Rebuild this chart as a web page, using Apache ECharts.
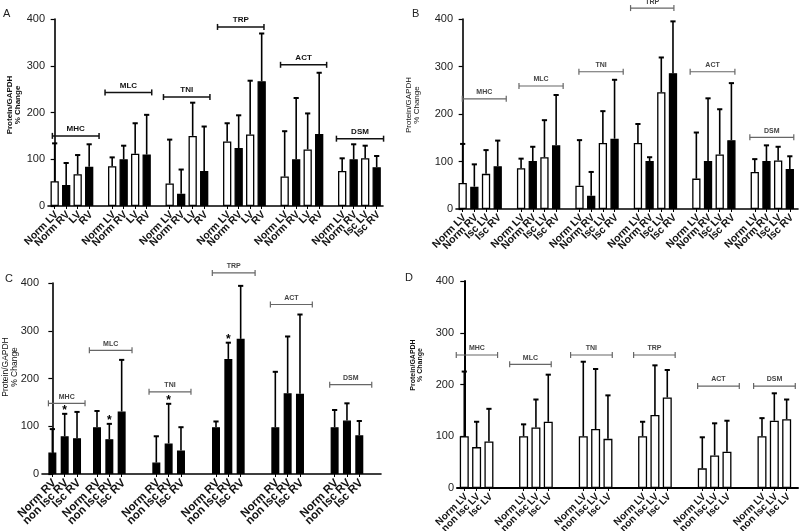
<!DOCTYPE html>
<html><head><meta charset="utf-8">
<script src="https://cdn.jsdelivr.net/npm/echarts@6/dist/echarts.min.js"></script>
<style>html,body{margin:0;padding:0;background:#fff}#c{width:800px;height:531px}</style>
</head><body><div id="c"></div>
<script>
// ---------- DATA ----------
const genes = ['MHC', 'MLC', 'TNI', 'TRP', 'ACT', 'DSM'];
const yTicks = [0, 100, 200, 300, 400];

const labelsA = ['Norm LV', 'Norm RV', 'LV', 'RV'];
const labelsA_last = ['Norm LV', 'Norm RV', 'Isc LV', 'Isc RV'];
const labelsB = ['Norm LV', 'Norm RV', 'Isc LV', 'Isc RV'];
const labelsC = ['Norm RV', 'non Isc RV', 'Isc RV'];
const labelsD = ['Norm LV', 'non Isc LV', 'Isc LV'];

// mean values (% change) per gene group
const meanA = [53, 45, 68, 84,  85, 100, 112, 110,  48, 26, 150, 75,  138, 124, 153, 267,  63, 100, 121, 154,  75, 100, 102, 83];
const sdA   = [81, 47, 41, 48,  19, 29, 65, 85,     94, 52, 71, 95,   39, 70, 115, 102,   97, 131, 77, 131,   27, 32, 27, 24];

const meanB = [55, 47, 74, 90,  86, 101, 109, 134,  49, 28, 139, 148,  139, 101, 246, 286,  64, 101, 115, 145,  78, 101, 102, 84];
const sdB   = [82, 47, 50, 54,  20, 30, 78, 106,    96, 50, 67, 124,   40, 8, 73, 109,      97, 132, 95, 120,   27, 33, 29, 27];

const meanC = [45, 79, 75,  98, 73, 131,  24, 64, 49,  98, 241, 283,  98, 169, 168,  98, 112, 81];
const sdC   = [49, 47, 55,  34, 32, 108,  55, 83, 49,  12, 34, 111,   116, 119, 166, 36, 36, 30];
const sigC  = [0, 1, 0,     0, 1, 0,      0, 1, 0,     0, 1, 0,       0, 0, 0,       0, 0, 0];

const meanD = [100, 79, 90,  100, 117, 128,  100, 114, 95,  100, 141, 175,  38, 63, 70,  100, 130, 133];
const sdD   = [125, 49, 63,  23, 54, 91,     144, 116, 84,  28, 96, 53,     60, 62, 60,  35, 53, 38];

// level of the gene bracket annotations
const bracketA = [150, 243, 233, 383, 302, 144];
const bracketB = [232, 259, 289, 423, 289, 151];
const bracketC = [148, 259, 172, 421, 355, 187];
const bracketD = [257, 239, 257, 257, 197, 197];

// ---------- LAYOUT ----------
const FONT = 'Liberation Sans, Arial, sans-serif';
const panels = [
  { key: 'A', grid: {left: 48, top: 19, width: 335, height: 187}, xmin: -0.58, xmax: 28.55,
    starts: [0, 5, 10, 15, 20, 25], n: 4, fills: ['#fff', '#000', '#fff', '#000'],
    spans: [[-0.2, 3.86], [4.38, 8.44], [9.46, 13.5], [14.16, 18.2], [19.64, 23.65], [24.5, 28.6]],
    labels: g => (g === 5 ? labelsA_last : labelsA), mean: meanA, sd: sdA, br: bracketA,
    barW: 8.3, brColor: '#111', brWidth: 1.5, brFont: 'bold 8px ' + FONT, lblFont: 10.5, axisW: 1.6 },
  { key: 'B', grid: {left: 456, top: 19, width: 342, height: 190}, xmin: -0.57, xmax: 28.7,
    starts: [0, 5, 10, 15, 20, 25], n: 4, fills: ['#fff', '#000', '#fff', '#000'],
    spans: [[-0.03, 3.73], [4.82, 8.6], [9.95, 13.74], [14.37, 18.08], [19.47, 23.3], [24.58, 28.34]],
    labels: g => labelsB, mean: meanB, sd: sdB, br: bracketB,
    barW: 8.3, brColor: '#666', brWidth: 1.2, brFont: 'bold 7px ' + FONT, lblFont: 10.5, axisW: 1.6 },
  { key: 'C', grid: {left: 42, top: 283, width: 339, height: 191}, xmin: -0.84, xmax: 26.65,
    starts: [0, 3.62, 8.43, 13.27, 18.08, 22.89], n: 3, fills: ['#000', '#000', '#000'],
    spans: [[-0.32, 2.65], [3.0, 6.46], [7.84, 11.24], [12.97, 16.44], [17.68, 21.08], [22.49, 25.9]],
    labels: g => labelsC, mean: meanC, sd: sdC, br: bracketC, sig: sigC,
    barW: 8, brColor: '#666', brWidth: 1.2, brFont: 'bold 7px ' + FONT, lblFont: 11.5, axisW: 1.6 },
  { key: 'D', grid: {left: 457, top: 281, width: 341, height: 207}, xmin: -0.59, xmax: 27.06,
    starts: [0, 4.81, 9.65, 14.46, 19.3, 24.14], n: 3, fills: ['#fff', '#fff', '#fff'],
    spans: [[-0.65, 2.7], [3.68, 7.05], [8.62, 12.0], [13.73, 17.1], [18.92, 22.3], [23.46, 26.84]],
    labels: g => labelsD, mean: meanD, sd: sdD, br: bracketD,
    barW: 9, brColor: '#666', brWidth: 1.2, brFont: 'bold 7px ' + FONT, lblFont: 10, axisW: 2 }
];

const grids = [], xAxes = [], yAxes = [], series = [];

panels.forEach((p, idx) => {
  const pos = [], names = [];
  p.starts.forEach((s, g) => {
    const lb = p.labels(g);
    for (let j = 0; j < p.n; j++) { pos.push(+(s + j).toFixed(4)); names.push(lb[j]); }
  });
  grids.push(Object.assign({containLabel: false}, p.grid));
  xAxes.push({
    type: 'value', gridIndex: idx, min: p.xmin, max: p.xmax,
    splitLine: {show: false},
    axisLine: {show: true, onZero: false, lineStyle: {color: '#000', width: p.axisW}},
    axisTick: {show: true, customValues: pos, length: 3, lineStyle: {color: '#000', width: 1}},
    axisLabel: {show: false}
  });
  yAxes.push({
    type: 'value', gridIndex: idx, min: 0, max: 400, interval: 100,
    splitLine: {show: false},
    axisLine: {show: true, lineStyle: {color: '#000', width: p.axisW}},
    axisTick: {show: true, length: 4, lineStyle: {color: '#000', width: 1.2}},
    axisLabel: {fontFamily: FONT, fontSize: 11, color: '#222', margin: 3, showMinLabel: true, showMaxLabel: true,
      formatter: v => (yTicks.indexOf(v) >= 0 ? String(v) : '')}
  });
  series.push({
    type: 'bar', xAxisIndex: idx, yAxisIndex: idx, barWidth: p.barW, z: 2,
    animation: false,
    data: pos.map((x, i) => ({value: [x, p.mean[i]], itemStyle: {color: p.fills[i % p.n]}})),
    itemStyle: {borderColor: '#000', borderWidth: 1.3}
  });
  const sig = p.sig || [];
  series.push({
    type: 'custom', xAxisIndex: idx, yAxisIndex: idx, z: 3, animation: false,
    data: pos.map((x, i) => [x, p.mean[i], p.mean[i] + p.sd[i], sig[i] || 0]),
    encode: {x: 0, y: [1, 2]},
    renderItem: (params, api) => {
      const x = api.value(0);
      const a = api.coord([x, api.value(1)]), b = api.coord([x, api.value(2)]);
      const ch = [
        {type: 'line', shape: {x1: a[0], y1: a[1], x2: b[0], y2: b[1]}, style: {stroke: '#000', lineWidth: 1.6}},
        {type: 'line', shape: {x1: b[0] - 2.6, y1: b[1], x2: b[0] + 2.6, y2: b[1]}, style: {stroke: '#000', lineWidth: 2}}
      ];
      if (api.value(3)) ch.push({type: 'text', x: b[0], y: b[1] + 3,
        style: {text: '*', align: 'center', verticalAlign: 'bottom', font: 'bold 12px ' + FONT, fill: '#000'}});
      return {type: 'group', children: ch};
    }
  });
  // category labels, rotated 45°, anchored under each bar
  series.push({
    type: 'custom', xAxisIndex: idx, yAxisIndex: idx, z: 5, animation: false, clip: false, silent: true,
    data: pos.map(x => [x, 0]),
    encode: {x: 0, y: 1},
    renderItem: (params, api) => {
      const c = api.coord([api.value(0), 0]);
      return {type: 'text', x: c[0] + 2, y: c[1] + 7, rotation: Math.PI / 4,
        style: {text: names[params.dataIndex], align: 'right', verticalAlign: 'middle',
          font: 'bold ' + p.lblFont + 'px ' + FONT, fill: '#111'}};
    }
  });
  series.push({
    type: 'custom', xAxisIndex: idx, yAxisIndex: idx, z: 4, animation: false, clip: false,
    data: p.spans.map((s, g) => [s[0], s[1], p.br[g]]),
    encode: {x: [0, 1], y: 2},
    renderItem: (params, api) => {
      const a = api.coord([api.value(0), api.value(2)]), b = api.coord([api.value(1), api.value(2)]);
      const st = {stroke: p.brColor, lineWidth: p.brWidth};
      return {type: 'group', children: [
        {type: 'line', shape: {x1: a[0], y1: a[1], x2: b[0], y2: b[1]}, style: st},
        {type: 'line', shape: {x1: a[0], y1: a[1] - 3, x2: a[0], y2: a[1] + 3}, style: st},
        {type: 'line', shape: {x1: b[0], y1: b[1] - 3, x2: b[0], y2: b[1] + 3}, style: st},
        {type: 'text', x: (a[0] + b[0]) / 2, y: a[1] - 3,
          style: {text: genes[params.dataIndex], align: 'center', verticalAlign: 'bottom', font: p.brFont, fill: p.brColor === '#111' ? '#111' : '#444'}}
      ]};
    }
  });
});

const yName = 'Protein/GAPDH\n% Change';
const graphic = [
  {type: 'text', left: 3, top: 8, style: {text: 'A', font: '11px ' + FONT, fill: '#222'}},
  {type: 'text', left: 412, top: 8, style: {text: 'B', font: '11px ' + FONT, fill: '#222'}},
  {type: 'text', left: 5, top: 273, style: {text: 'C', font: '11px ' + FONT, fill: '#222'}},
  {type: 'text', left: 405, top: 272, style: {text: 'D', font: '11px ' + FONT, fill: '#222'}},
  {type: 'text', x: 14, y: 105, rotation: Math.PI / 2, style: {text: yName, align: 'center', verticalAlign: 'middle', font: 'bold 8px ' + FONT, lineHeight: 8, fill: '#111'}},
  {type: 'text', x: 413, y: 105, rotation: Math.PI / 2, style: {text: yName, align: 'center', verticalAlign: 'middle', font: '8px ' + FONT, lineHeight: 8, fill: '#111'}},
  {type: 'text', x: 10, y: 367, rotation: Math.PI / 2, style: {text: yName, align: 'center', verticalAlign: 'middle', font: '8.5px ' + FONT, lineHeight: 8.5, fill: '#111'}},
  {type: 'text', x: 417, y: 365, rotation: Math.PI / 2, style: {text: yName, align: 'center', verticalAlign: 'middle', font: 'bold 7px ' + FONT, lineHeight: 7, fill: '#111'}}
];

const chart = echarts.init(document.getElementById('c'), null, {renderer: 'canvas'});
chart.setOption({
  backgroundColor: '#fff', animation: false,
  grid: grids, xAxis: xAxes, yAxis: yAxes, series: series, graphic: graphic
});
</script></body></html>
